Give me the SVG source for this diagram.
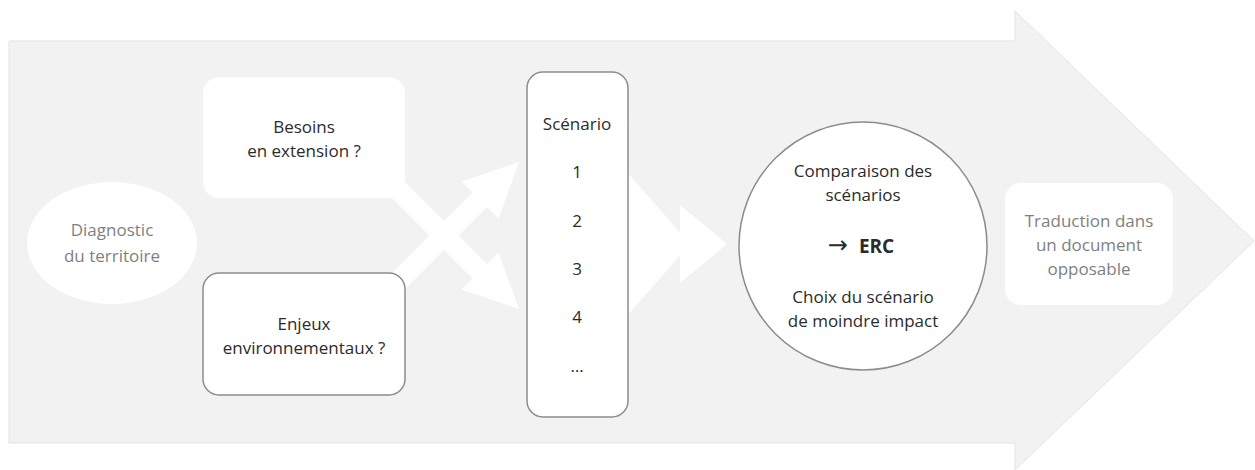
<svg xmlns="http://www.w3.org/2000/svg" width="1255" height="470" viewBox="0 0 1255 470">
<style>
.t{font-family:"Open Sans","Liberation Sans",sans-serif;font-size:17px;text-anchor:middle;fill:#2b2b2b}
.g{fill:#7f7f7f}
.b{font-weight:bold;font-size:19px}
.ar{font-family:"DejaVu Sans",sans-serif;font-weight:normal;font-size:24px}
.wb{fill:#ffffff;stroke:#8c8c8c;stroke-width:1.5}
.w{fill:#ffffff}
</style>
<rect width="1255" height="470" fill="#ffffff"/>
<g id="bigarrow">
<polygon points="9,41 1015,41 1015,11 1254,241 1015,470 1015,443 9,443" fill="#f2f2f2" stroke="#e3e3e3" stroke-width="1"/>
</g>
<g id="connectors">
<polygon class="w" points="396.5,173.5 487,264 498.5,252.5 519,309 461.5,289.5 472.5,278.5 382,188"/>
<polygon class="w" points="396.5,297.5 487,207 498.5,218.5 519,162 461.5,181.5 472.5,192.5 382,283"/>
<polygon class="w" points="628,173 690,244 628,315"/>
<polygon class="w" points="680,205 727,244 680,283"/>
</g>
<g id="diagnostic">
<ellipse class="w" cx="112" cy="243" rx="85" ry="61"/>
<text class="t g" x="112" y="236">Diagnostic</text>
<text class="t g" x="112" y="262">du territoire</text>
</g>
<g id="besoins">
<rect class="w" x="203" y="77" width="202" height="121" rx="16"/>
<text class="t" x="304" y="133">Besoins</text>
<text class="t" x="304" y="157">en extension ?</text>
</g>
<g id="enjeux">
<rect class="wb" x="203" y="273" width="202" height="122" rx="16"/>
<text class="t" x="304" y="330">Enjeux</text>
<text class="t" x="304" y="354">environnementaux ?</text>
</g>
<g id="scenario">
<rect class="wb" x="527" y="72" width="101" height="345" rx="16"/>
<text class="t" x="577" y="130">Scénario</text>
<text class="t" x="577" y="178">1</text>
<text class="t" x="577" y="227">2</text>
<text class="t" x="577" y="275">3</text>
<text class="t" x="577" y="323">4</text>
<text class="t" x="577" y="372">…</text>
</g>
<g id="comparaison">
<circle class="wb" cx="863" cy="246" r="124"/>
<text class="t" x="863" y="177">Comparaison des</text>
<text class="t" x="863" y="201">scénarios</text>
<text class="t b" x="861" y="253"><tspan class="ar">→</tspan><tspan dx="11">ERC</tspan></text>
<text class="t" x="863" y="303">Choix du scénario</text>
<text class="t" x="863" y="327">de moindre impact</text>
</g>
<g id="traduction">
<rect class="w" x="1005" y="183" width="168" height="122" rx="16"/>
<text class="t g" x="1089" y="227">Traduction dans</text>
<text class="t g" x="1089" y="251">un document</text>
<text class="t g" x="1089" y="275">opposable</text>
</g>
</svg>
